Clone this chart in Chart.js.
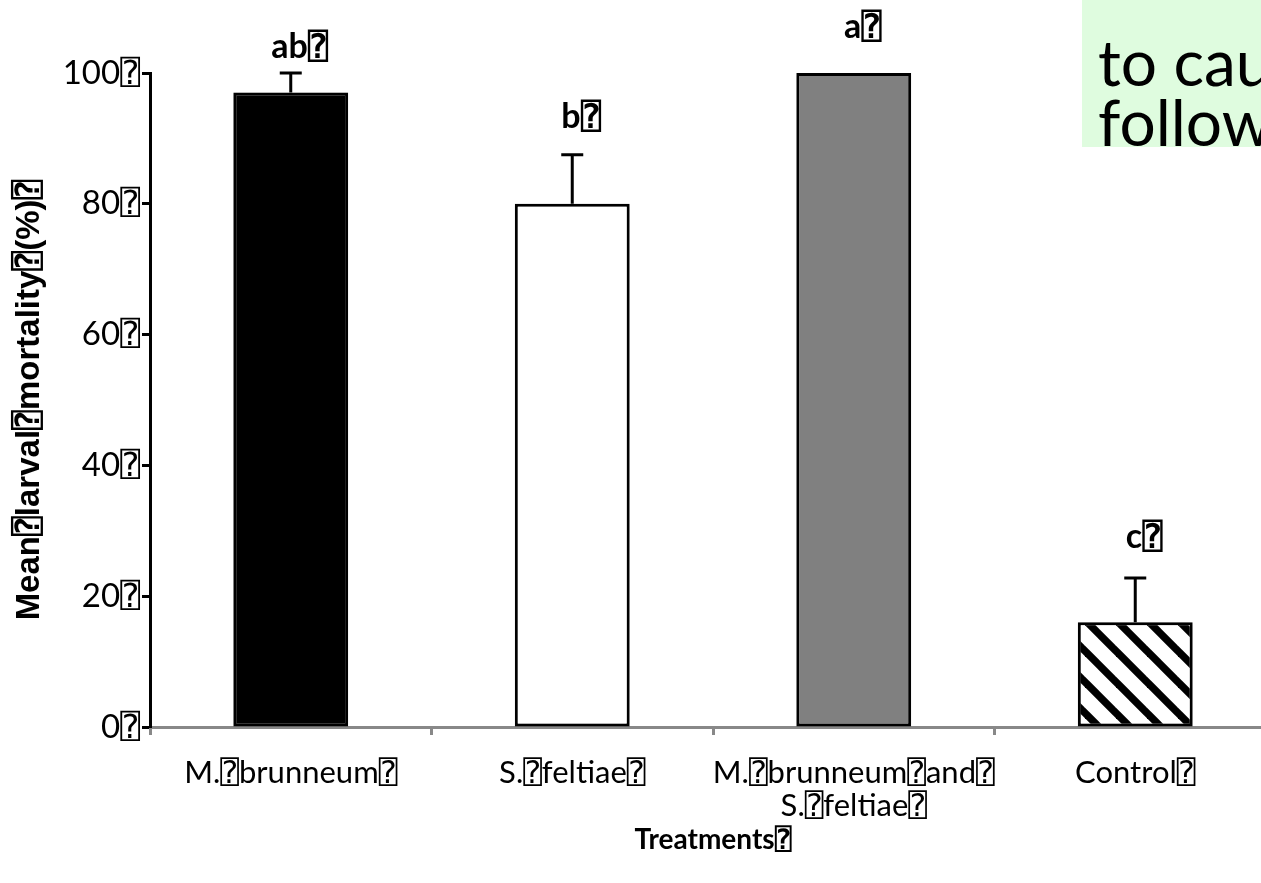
<!DOCTYPE html>
<html>
<head>
<meta charset="utf-8">
<script src="https://cdn.jsdelivr.net/npm/chart.js@4.4.1/dist/chart.umd.min.js"></script>
<style>
  html, body { margin: 0; padding: 0; background: #fff; overflow: hidden; }
  #wrap { width: 1300px; height: 883px; }
</style>
</head>
<body>
<div id="wrap"><canvas id="c" width="1300" height="883"></canvas></div>
<script>
// ---- data ----
const categories = [["M.\u2370brunneum\u2370"], ["S.\u2370feltiae\u2370"], ["M.\u2370brunneum\u2370and\u2370", "S.\u2370feltiae\u2370"], ["Control\u2370"]];
const meanMortality = [97, 80, 100, 16];
const errorUpper = [3, 7.5, 0, 6.8];
const groupLetters = ["ab\u2370", "b\u2370", "a\u2370", "c\u2370"];
const letterAt = [104, 93.3, 107, 29];
const yTicks = [0, 20, 40, 60, 80, 100];
const yTitle = "Mean\u2370larval\u2370mortality\u2370(%)\u2370";
const xTitle = "Treatments\u2370";
const overlayLines = ["to cau", "follow"];

const SANS = "Lato, 'DejaVu Sans Mono', 'DejaVu Sans', sans-serif";
const BOLD = "'Liberation Sans', Arial, 'DejaVu Sans Mono', sans-serif";

// hatch pattern
function makeHatch() {
  const s = 31;
  const p = document.createElement('canvas');
  p.width = s; p.height = s;
  const g = p.getContext('2d');
  g.fillStyle = '#fff';
  g.fillRect(0, 0, s, s);
  g.strokeStyle = '#000';
  g.lineWidth = 7.5;
  for (const o of [-s, 0, s]) {
    g.beginPath();
    g.moveTo(o - 8, -8);
    g.lineTo(o + s + 8, s + 8);
    g.stroke();
  }
  return g.createPattern(p, 'repeat');
}
const ctx0 = document.getElementById('c').getContext('2d');
const fills = ['#000000', '#ffffff', '#808080', makeHatch()];

const shadowPlugin = {
  id: 'shadow',
  beforeDatasetsDraw(chart) {
    const c = chart.ctx;
    c.save();
    c.shadowColor = 'rgba(0,0,0,0.22)';
    c.shadowBlur = 7;
  },
  afterDatasetsDraw(chart) {
    chart.ctx.restore();
  }
};

const extrasPlugin = {
  id: 'extras',
  afterDatasetsDraw(chart) {
    const c = chart.ctx;
    const meta = chart.getDatasetMeta(0);
    const y = chart.scales.y;
    c.save();
    c.strokeStyle = '#000';
    c.lineWidth = 3;
    meta.data.forEach((bar, i) => {
      const e = errorUpper[i];
      if (!e) return;
      const x = bar.x;
      const y0 = y.getPixelForValue(meanMortality[i]);
      const y1 = y.getPixelForValue(meanMortality[i] + e);
      c.beginPath();
      c.moveTo(x, y0);
      c.lineTo(x, y1);
      c.moveTo(x - 11, y1);
      c.lineTo(x + 11, y1);
      c.stroke();
    });
    c.fillStyle = '#000';
    c.font = "bold 34px " + SANS;
    c.textAlign = 'center';
    c.textBaseline = 'middle';
    meta.data.forEach((bar, i) => {
      c.fillText(groupLetters[i], bar.x + 9, y.getPixelForValue(letterAt[i]));
    });
    c.restore();
  },
  afterDraw(chart) {
    const c = chart.ctx;
    c.save();
    c.fillStyle = '#dffcdf';
    c.fillRect(1082, 0, 220, 147);
    c.fillStyle = '#000';
    c.font = "64px " + SANS;
    c.textAlign = 'left';
    c.textBaseline = 'alphabetic';
    c.fillText(overlayLines[0], 1098, 86);
    c.fillText(overlayLines[1], 1098, 146);
    c.restore();
  }
};

new Chart(ctx0, {
  type: 'bar',
  data: {
    labels: categories,
    datasets: [{
      data: meanMortality,
      backgroundColor: fills,
      borderColor: '#000',
      borderWidth: 3,
      borderSkipped: false,
      barPercentage: 0.408,
      categoryPercentage: 1,
      clip: false
    }]
  },
  options: {
    responsive: false,
    animation: false,
    devicePixelRatio: 1,
    layout: { padding: { top: 73, right: 24, bottom: 0, left: 0 } },
    plugins: { legend: { display: false }, tooltip: { enabled: false } },
    scales: {
      x: {
        z: 1,
        grid: { offset: true, drawOnChartArea: false, drawTicks: true, tickLength: 8, tickColor: '#888', tickWidth: 3 },
        border: { color: '#888', width: 3 },
        ticks: { color: '#000', padding: 22, font: { family: SANS, size: 31, lineHeight: 1.05 }, maxRotation: 0, autoSkip: false },
        title: { display: true, text: xTitle, color: '#000', font: { family: SANS, size: 28, weight: 'bold', lineHeight: 1.2 }, padding: { top: 0, bottom: 26 } },
        afterFit(s) { s.height = 156; }
      },
      y: {
        min: 0, max: 100,
        afterBuildTicks(s) { s.ticks = yTicks.map(v => ({ value: v })); },
        grid: { drawOnChartArea: false, drawTicks: true, tickLength: 8, tickColor: '#000', tickWidth: 3 },
        border: { color: '#000', width: 3 },
        ticks: { color: '#000', padding: 2, font: { family: SANS, size: 33 }, callback: v => v + "\u2370" },
        title: { display: true, text: yTitle, color: '#000', font: { family: BOLD, size: 33, weight: 'bold', lineHeight: 1.2 }, padding: { top: 10, bottom: 0 } },
        afterFit(s) { s.width = 150; }
      }
    }
  },
  plugins: [shadowPlugin, extrasPlugin]
});
</script>
</body>
</html>
